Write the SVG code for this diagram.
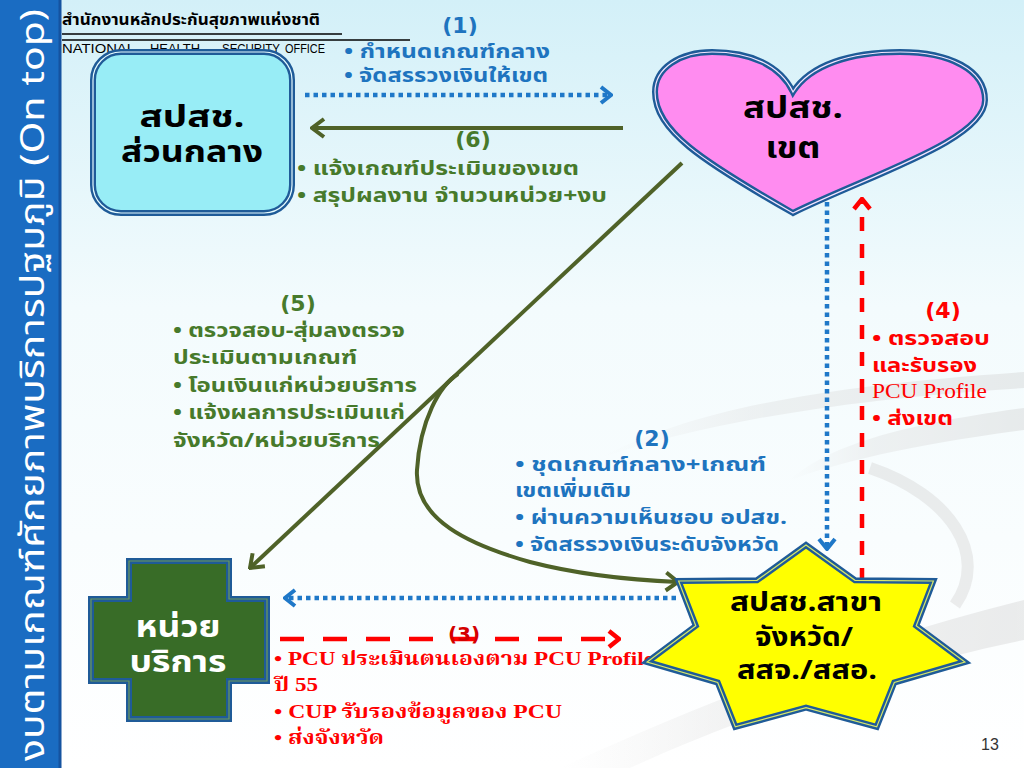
<svg xmlns="http://www.w3.org/2000/svg" width="1024" height="768" viewBox="0 0 1024 768">
<defs>
<linearGradient id="bg" x1="0" y1="0" x2="0" y2="1">
<stop offset="0" stop-color="#d3f0f8"/>
<stop offset="0.4" stop-color="#f3fbfd"/>
<stop offset="1" stop-color="#ffffff"/>
</linearGradient>
<linearGradient id="sw" x1="0" y1="0" x2="1" y2="0">
<stop offset="0" stop-color="#e4e4e4" stop-opacity="0"/>
<stop offset="0.35" stop-color="#dedede" stop-opacity="0.8"/>
<stop offset="1" stop-color="#d2d2d2" stop-opacity="0.9"/>
</linearGradient>
<marker id="ah-blue" viewBox="-12 -10 14 20" refX="0" refY="0" markerWidth="14" markerHeight="20" orient="auto" markerUnits="userSpaceOnUse">
<path d="M -10 -8 L 0 0 L -10 8" fill="none" stroke="#1f78c8" stroke-width="4"/>
</marker>
<marker id="ah-green" viewBox="-14 -11 16 22" refX="0" refY="0" markerWidth="16" markerHeight="22" orient="auto" markerUnits="userSpaceOnUse">
<path d="M -12 -9 L 0 0 L -12 9" fill="none" stroke="#4f6228" stroke-width="4"/>
</marker>
<marker id="ah-red" viewBox="-12 -10 14 20" refX="0" refY="0" markerWidth="14" markerHeight="20" orient="auto" markerUnits="userSpaceOnUse">
<path d="M -10 -8 L 0 0 L -10 8" fill="none" stroke="#ff0000" stroke-width="4.5"/>
</marker>
<style>
.th { font-family: "Tahoma", "Noto Sans Thai", "Noto Sans Thai UI", "Loma", "Garuda", "Waree", "Sarabun", "DejaVu Sans", "Noto Sans", sans-serif; font-weight: bold; }
.ser { font-family: "Liberation Serif", "Noto Serif Thai", "Norasi", "Noto Sans Thai", "Loma", serif; font-weight: bold; }
.node { font-size: 30px; text-anchor: middle; fill: #000; }
.star { font-size: 26px; }
.lbl { font-size: 20px; }
.blue { fill: #1e74bf; }
.green { fill: #477a2b; }
.red { fill: #ff0000; }
.num { font-size: 22px; text-anchor: middle; font-family: "DejaVu Sans", "Liberation Sans", sans-serif; font-weight: bold; }
.dot { stroke: #1f78c8; stroke-width: 4.5; stroke-dasharray: 4.5 4; fill: none; }
.gl { stroke: #4f6228; stroke-width: 4; fill: none; }
.rdh { stroke: #ff0000; stroke-width: 4.5; stroke-dasharray: 24 19; fill: none; }
.rdv { stroke: #ff0000; stroke-width: 4.5; stroke-dasharray: 14 13; fill: none; }
.edge { stroke: #1f5b98; stroke-width: 6; }
</style>
</defs>

<rect x="0" y="0" width="1024" height="768" fill="url(#bg)"/>

<g id="decoration" opacity="0.45">
<path d="M 600 458 C 690 410 820 386 1024 372 L 1024 388 C 830 400 700 425 600 458 Z" fill="url(#sw)"/>
<path d="M 790 480 C 830 445 900 425 1024 408 L 1024 430 C 910 445 840 462 790 480 Z" fill="url(#sw)"/>
<path d="M 870 468 C 950 495 990 555 955 605" fill="none" stroke="#d8d8d8" stroke-width="12"/>
<path d="M 560 768 C 700 705 860 640 1024 600 L 1024 640 C 870 672 730 722 630 768 Z" fill="url(#sw)"/>
</g>

<g id="sidebar">
<rect x="0" y="0" width="61" height="768" fill="#1a6cc2"/>
<line x1="60" y1="0" x2="60" y2="768" stroke="#1553a0" stroke-width="3"/>
<text class="th" transform="translate(44,385) rotate(-90)" font-size="33" fill="#ffffff" text-anchor="middle" textLength="752" lengthAdjust="spacingAndGlyphs" style="font-weight:normal">งบตามเกณฑ์ศักยภาพบริการปฐมภูมิ (On top)</text>
</g>

<g id="header">
<text class="th" x="62" y="25" font-size="15" fill="#000" textLength="258" lengthAdjust="spacingAndGlyphs">สำนักงานหลักประกันสุขภาพแห่งชาติ</text>
<line x1="62" y1="34" x2="342" y2="34" stroke="#000" stroke-width="1.3"/>
<line x1="62" y1="40" x2="410" y2="40" stroke="#000" stroke-width="1.3"/>
<g font-family="Liberation Sans Narrow, Liberation Sans, sans-serif" font-size="13" fill="#000">
<text x="62" y="53" textLength="73" lengthAdjust="spacingAndGlyphs">NATIONAL</text>
<text x="150" y="53" textLength="50" lengthAdjust="spacingAndGlyphs">HEALTH</text>
<text x="222" y="53" textLength="58" lengthAdjust="spacingAndGlyphs">SECURITY</text>
<text x="285" y="53" textLength="40" lengthAdjust="spacingAndGlyphs">OFFICE</text>
</g>
</g>

<g id="connectors">
<line class="dot" x1="305" y1="95" x2="611" y2="95" marker-end="url(#ah-blue)"/>
<line class="gl" x1="623" y1="128" x2="312" y2="128" marker-end="url(#ah-green)"/>
<line class="gl" x1="682" y1="163" x2="250" y2="568" marker-end="url(#ah-green)"/>
<path class="gl" d="M 458 374 C 440 385 420 420 417 470 C 414 520 470 545 530 562 C 580 575 630 580 678 582" marker-end="url(#ah-green)"/>
<line class="dot" x1="827" y1="202" x2="827" y2="549" marker-end="url(#ah-blue)"/>
<line class="rdv" x1="862" y1="582" x2="862" y2="199" marker-end="url(#ah-red)"/>
<line class="dot" x1="676" y1="598" x2="285" y2="598" marker-end="url(#ah-blue)"/>
<line class="rdh" x1="280" y1="639" x2="619" y2="639" marker-end="url(#ah-red)"/>
</g>

<g id="label-1">
<text class="num blue" x="460" y="33">(1)</text>
<text class="th lbl blue" x="344" y="58" textLength="206" lengthAdjust="spacingAndGlyphs">• กำหนดเกณฑ์กลาง</text>
<text class="th lbl blue" x="344" y="82" textLength="204" lengthAdjust="spacingAndGlyphs">• จัดสรรวงเงินให้เขต</text>
</g>

<g id="label-6">
<text class="num green" x="473" y="147">(6)</text>
<text class="th lbl green" x="297" y="175" textLength="282" lengthAdjust="spacingAndGlyphs">• แจ้งเกณฑ์ประเมินของเขต</text>
<text class="th lbl green" x="297" y="202" textLength="310" lengthAdjust="spacingAndGlyphs">• สรุปผลงาน จำนวนหน่วย+งบ</text>
</g>

<g id="label-5">
<text class="num green" x="298" y="311">(5)</text>
<text class="th lbl green" x="173" y="337" textLength="232" lengthAdjust="spacingAndGlyphs">• ตรวจสอบ-สุ่มลงตรวจ</text>
<text class="th lbl green" x="173" y="364" textLength="184" lengthAdjust="spacingAndGlyphs">ประเมินตามเกณฑ์</text>
<text class="th lbl green" x="173" y="392" textLength="244" lengthAdjust="spacingAndGlyphs">• โอนเงินแก่หน่วยบริการ</text>
<text class="th lbl green" x="173" y="419" textLength="232" lengthAdjust="spacingAndGlyphs">• แจ้งผลการประเมินแก่</text>
<text class="th lbl green" x="173" y="447" textLength="207" lengthAdjust="spacingAndGlyphs">จังหวัด/หน่วยบริการ</text>
</g>

<g id="label-2">
<text class="num blue" x="652" y="446">(2)</text>
<text class="th lbl blue" x="515" y="471" textLength="251" lengthAdjust="spacingAndGlyphs">• ชุดเกณฑ์กลาง+เกณฑ์</text>
<text class="th lbl blue" x="515" y="497" textLength="116" lengthAdjust="spacingAndGlyphs">เขตเพิ่มเติม</text>
<text class="th lbl blue" x="515" y="524" textLength="272" lengthAdjust="spacingAndGlyphs">• ผ่านความเห็นชอบ อปสข.</text>
<text class="th lbl blue" x="515" y="551" textLength="264" lengthAdjust="spacingAndGlyphs">• จัดสรรวงเงินระดับจังหวัด</text>
</g>

<g id="label-4">
<text class="num red" x="943" y="318">(4)</text>
<text class="th lbl red" x="872" y="345" textLength="118" lengthAdjust="spacingAndGlyphs">• ตรวจสอบ</text>
<text class="th lbl red" x="872" y="372" textLength="105" lengthAdjust="spacingAndGlyphs">และรับรอง</text>
<text class="ser red" x="872" y="398" font-size="20" textLength="115" lengthAdjust="spacingAndGlyphs" style="font-weight:normal">PCU Profile</text>
<text class="th lbl red" x="872" y="425" textLength="81" lengthAdjust="spacingAndGlyphs">• ส่งเขต</text>
</g>

<g id="label-3">
<text class="num" x="464" y="641" style="fill:#d40000;font-size:20px">(3)</text>
<text class="ser red" x="274" y="665" font-size="19" textLength="380" lengthAdjust="spacingAndGlyphs">• PCU ประเมินตนเองตาม PCU Profile</text>
<text class="ser red" x="274" y="691" font-size="19" textLength="44" lengthAdjust="spacingAndGlyphs">ปี 55</text>
<text class="ser red" x="274" y="718" font-size="19" textLength="288" lengthAdjust="spacingAndGlyphs">• CUP รับรองข้อมูลของ PCU</text>
<text class="ser red" x="274" y="744" font-size="19" textLength="110" lengthAdjust="spacingAndGlyphs">• ส่งจังหวัด</text>
</g>

<g id="node-central">
<rect class="edge" x="93" y="52" width="199" height="161" rx="28" fill="#98edf6"/>
<rect x="93" y="52" width="199" height="161" rx="28" fill="none" stroke="#e6fbff" stroke-width="1.2"/>
<text class="th node" x="192" y="127" textLength="105" lengthAdjust="spacingAndGlyphs">สปสช.</text>
<text class="th node" x="192" y="162" textLength="142" lengthAdjust="spacingAndGlyphs">ส่วนกลาง</text>
</g>

<g id="node-region">
<path class="edge" d="M 793 92 C 780 65 750 52 712 52 C 680 52 655 68 655 92 C 655 130 700 160 793 213 C 870 175 985 140 985 100 C 985 70 950 52 900 52 C 850 52 810 65 793 92 Z" fill="#ff8cf0"/>
<path d="M 793 92 C 780 65 750 52 712 52 C 680 52 655 68 655 92 C 655 130 700 160 793 213 C 870 175 985 140 985 100 C 985 70 950 52 900 52 C 850 52 810 65 793 92 Z" fill="none" stroke="#f4e4ff" stroke-width="1.2"/>
<text class="th node" x="793" y="118" textLength="100" lengthAdjust="spacingAndGlyphs">สปสช.</text>
<text class="th node" x="793" y="158" textLength="55" lengthAdjust="spacingAndGlyphs">เขต</text>
</g>

<g id="node-province">
<polygon class="edge" points="806,545 855,580.3 933.4,581 916.2,625.8 964.9,662 894.3,682.5 876.7,726.9 806,707.7 735.3,726.9 717.7,682.5 647.1,662 695.8,625.8 678.6,581 757,580.3" fill="#ffff00"/>
<polygon points="806,545 855,580.3 933.4,581 916.2,625.8 964.9,662 894.3,682.5 876.7,726.9 806,707.7 735.3,726.9 717.7,682.5 647.1,662 695.8,625.8 678.6,581 757,580.3" fill="none" stroke="#d8e86a" stroke-width="1.2"/>
<text class="th node star" x="806" y="611" textLength="152" lengthAdjust="spacingAndGlyphs">สปสช.สาขา</text>
<text class="th node star" x="804" y="646" textLength="98" lengthAdjust="spacingAndGlyphs">จังหวัด/</text>
<text class="th node star" x="807" y="679" textLength="140" lengthAdjust="spacingAndGlyphs">สสจ./สสอ.</text>
</g>

<g id="node-unit">
<polygon class="edge" points="129,561 229,561 229,599 267,599 267,681 229,681 229,719 129,719 129,681 91,681 91,599 129,599" fill="#386c27"/>
<polygon points="129,561 229,561 229,599 267,599 267,681 229,681 229,719 129,719 129,681 91,681 91,599 129,599" fill="none" stroke="#6f9a5a" stroke-width="1.2"/>
<text class="th node" x="178" y="637" style="fill:#ffffff" textLength="85" lengthAdjust="spacingAndGlyphs">หน่วย</text>
<text class="th node" x="178" y="672" style="fill:#ffffff" textLength="97" lengthAdjust="spacingAndGlyphs">บริการ</text>
</g>

<text x="990" y="750" font-family="Liberation Sans, sans-serif" font-size="16" fill="#333" text-anchor="middle">13</text>
</svg>
